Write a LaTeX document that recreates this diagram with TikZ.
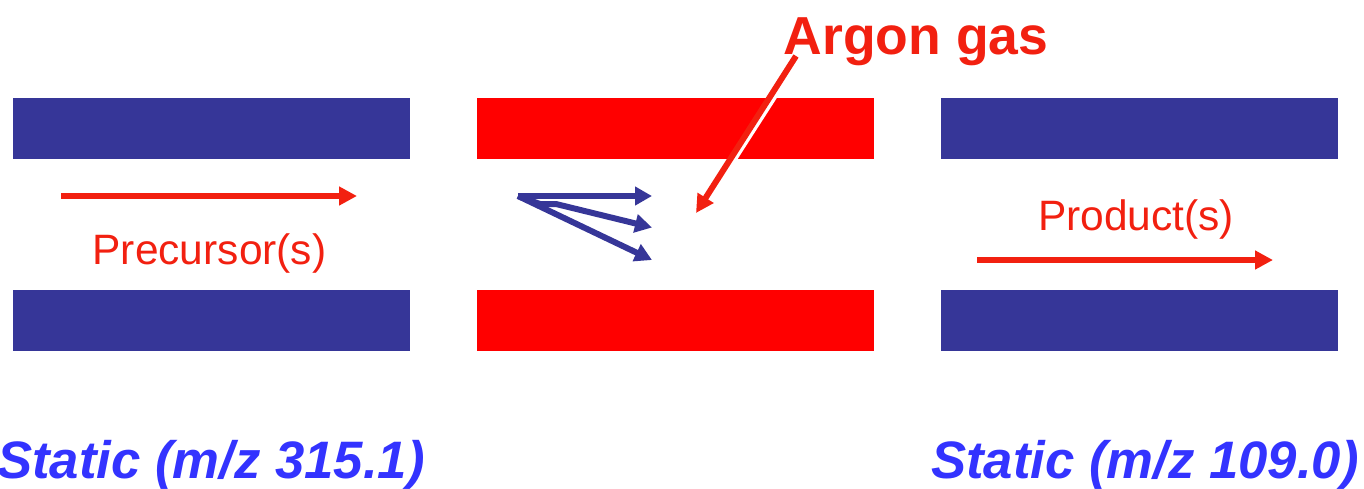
\documentclass[tikz,border=0pt]{standalone}
\usepackage{fontspec}
\setmainfont{Liberation Sans}
\usetikzlibrary{arrows.meta}
\definecolor{plate}{RGB}{54,54,152}
\definecolor{hot}{RGB}{255,0,0}
\definecolor{lab}{RGB}{242,32,16}
\definecolor{stat}{RGB}{51,51,255}
\tikzset{x=1pt,y=-1pt,
 platebox/.style={draw=none,fill=#1,minimum width=397.3pt,minimum height=61pt,inner sep=0pt,outer sep=0pt,anchor=north west},
 redarrow/.style={draw=lab,line width=5.5pt,-{Triangle[length=18pt,width=18pt]}},
 bluearrow/.style={draw=plate,line width=6pt,-{Triangle[length=17pt,width=18pt]}},
 txt/.style={inner sep=0pt,outer sep=0pt,anchor=base},
}
\begin{document}
\begin{tikzpicture}
\useasboundingbox (0,0) rectangle (1364,488);
\node[platebox=plate] (a1) at (13,98.2) {};
\node[platebox=plate] (a2) at (13,290) {};
\node[platebox=hot] (b1) at (477,98.2) {};
\node[platebox=hot] (b2) at (477,290) {};
\node[platebox=plate] (c1) at (941,98.2) {};
\node[platebox=plate] (c2) at (941,290) {};
\coordinate (p0) at (61,196); \coordinate (p1) at (357,196);
\draw[redarrow] (p0) -- (p1);
\coordinate (q0) at (977,260); \coordinate (q1) at (1273,260);
\draw[redarrow] (q0) -- (q1);
\coordinate (s) at (518,196);
\coordinate (k1) at (540,204); \coordinate (k2) at (556,204);
\coordinate (t1) at (652,196); \coordinate (t2) at (652,227.5); \coordinate (t3) at (652,260);
\draw[bluearrow] (s) -- (t1);
\draw[bluearrow] (s) -- (k1) -- (k2) -- (t2);
\draw[bluearrow] (s) -- (t3);
\node[txt,font=\fontsize{42.5}{42.5}\selectfont,text=lab] (pt) at (209.5,264) {Precursor(s)};
\node[txt,font=\fontsize{42.5}{42.5}\selectfont,text=lab] (qt) at (1136,230) {Product(s)};
\node[txt,font=\fontsize{53.5}{53.5}\selectfont\bfseries,text=lab] (ar) at (916,54) {Argon gas};
\coordinate (g0) at (796,56); \coordinate (g1) at (696,213);
\fill[white] (776.7,98.2) -- (737.5,159.2) -- (731,159.2) -- (769,98.2) -- cycle;
\draw[redarrow,line width=6pt] (g0) -- (g1);
\node[txt,font=\fontsize{52.7}{52.7}\selectfont\bfseries\itshape,text=stat] (s1) at (211,478) {Static (m/z 315.1)};
\node[txt,font=\fontsize{52.7}{52.7}\selectfont\bfseries\itshape,text=stat] (s2) at (1145,478) {Static (m/z 109.0)};
\end{tikzpicture}
\end{document}
